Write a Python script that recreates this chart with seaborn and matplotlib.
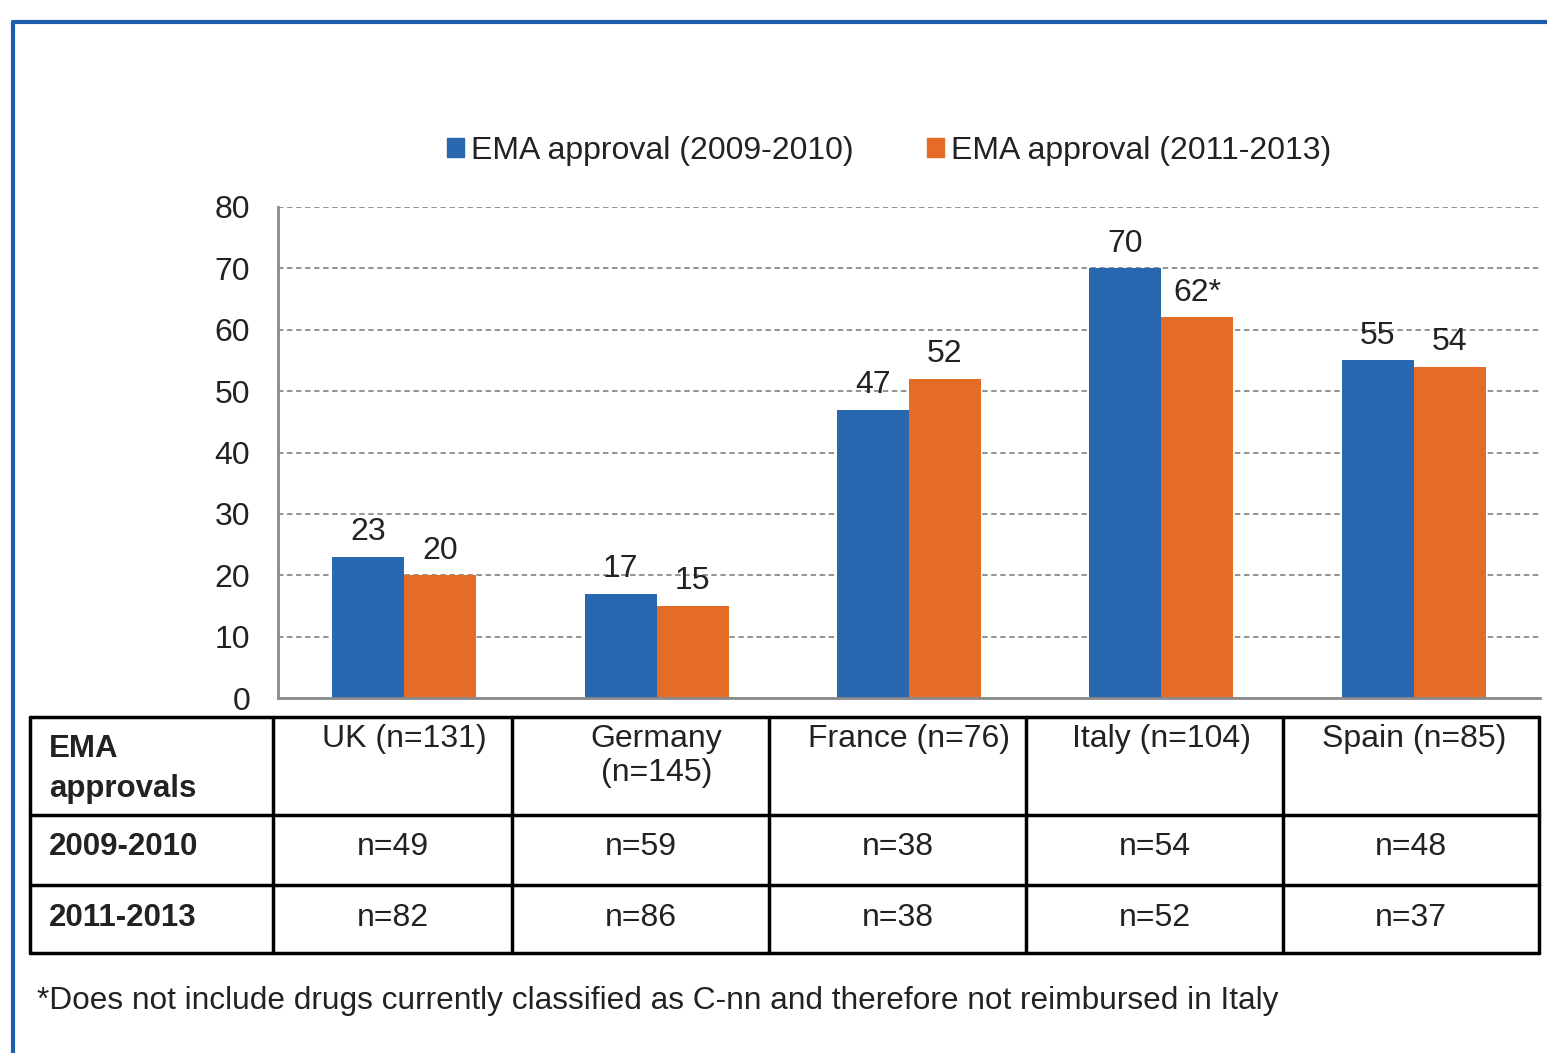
import matplotlib
matplotlib.use("Agg")
import matplotlib.pyplot as plt
import seaborn as sns
import pandas as pd
from matplotlib.lines import Line2D

# ---- data ----
countries = ["UK (n=131)", "Germany\n(n=145)", "France (n=76)", "Italy (n=104)", "Spain (n=85)"]
series_names = ["EMA approval (2009-2010)", "EMA approval (2011-2013)"]
vals_2009 = [23, 17, 47, 70, 55]
vals_2011 = [20, 15, 52, 62, 54]
labels_2011 = ["20", "15", "52", "62*", "54"]
n_2009 = ["n=49", "n=59", "n=38", "n=54", "n=48"]
n_2011 = ["n=82", "n=86", "n=38", "n=52", "n=37"]
row_labels = ["EMA\napprovals", "2009-2010", "2011-2013"]
yticks = [0, 10, 20, 30, 40, 50, 60, 70, 80]
footnote = "*Does not include drugs currently classified as C-nn and therefore not reimbursed in Italy"

BLUE = "#2968B0"
ORANGE = "#E56C27"
TXT = "#222222"
FS = 23

df = pd.DataFrame({
    "country": countries * 2,
    "series": [series_names[0]] * 5 + [series_names[1]] * 5,
    "value": vals_2009 + vals_2011,
})

sns.set_theme(style="white")
plt.rcParams["font.family"] = ["Liberation Sans", "DejaVu Sans"]

W, H = 1547, 1053
fig = plt.figure(figsize=(W / 100, H / 100), dpi=100)

def fx(x):
    return x / W

def fy(y):
    return 1 - y / H

ax = fig.add_axes([fx(278), fy(698), fx(1540) - fx(278), fy(207) - fy(698)])
sns.barplot(data=df, x="country", y="value", hue="series",
            palette=[BLUE, ORANGE], width=0.57, ax=ax, legend=False,
            saturation=1, edgecolor="none")
ax.set_xlim(-0.5, 4.5)
ax.set_ylim(0, 80)
ax.set_yticks(yticks)
ax.set_ylabel("")
ax.set_xlabel("")
ax.yaxis.grid(True, linestyle=(0, (3, 2)), color="#8a8a8a", linewidth=1.3)
ax.set_axisbelow(True)
for s in ["top", "right"]:
    ax.spines[s].set_visible(False)
for s in ["left", "bottom"]:
    ax.spines[s].set_color("#8a8a8a")
    ax.spines[s].set_linewidth(2)
ax.tick_params(axis="y", length=0, pad=20, labelsize=FS, labelcolor=TXT)
ax.tick_params(axis="x", length=0, pad=19, labelsize=FS, labelcolor=TXT)
for t in ax.get_xticklabels():
    t.set_va("top")
    t.set_linespacing(1.15)

containers = ax.containers
ax.bar_label(containers[0], labels=[str(v) for v in vals_2009], padding=7,
             fontsize=FS, color=TXT)
ax.bar_label(containers[1], labels=labels_2011, padding=7,
             fontsize=FS, color=TXT)

# legend
handles = [plt.Rectangle((0, 0), 1, 1, color=BLUE), plt.Rectangle((0, 0), 1, 1, color=ORANGE)]
fig.legend(handles, series_names, loc="center", bbox_to_anchor=(fx(889), fy(151)),
           ncol=2, frameon=False, fontsize=FS, handlelength=0.55, handleheight=0.55,
           handletextpad=0.2, columnspacing=2.3, labelcolor=TXT)

# table
col_x = [30, 273, 512, 769, 1026, 1283, 1539]
row_y = [717, 815, 885, 953]
for y in row_y:
    fig.add_artist(Line2D([fx(col_x[0]), fx(col_x[-1])], [fy(y), fy(y)], color="black", lw=2.5))
for x in col_x:
    fig.add_artist(Line2D([fx(x), fx(x)], [fy(row_y[0]), fy(row_y[-1])], color="black", lw=2.5))

fig.text(fx(49), fy(769), row_labels[0], fontsize=FS - 0.5, fontweight="bold", ha="left",
         va="center", color=TXT, linespacing=1.4)
fig.text(fx(49), fy(847), row_labels[1], fontsize=FS - 0.5, fontweight="bold", ha="left",
         va="center", color=TXT)
fig.text(fx(49), fy(918), row_labels[2], fontsize=FS - 0.5, fontweight="bold", ha="left",
         va="center", color=TXT)
for i in range(5):
    cx = (col_x[i + 1] + col_x[i + 2]) / 2
    fig.text(fx(cx), fy(847), n_2009[i], fontsize=FS, ha="center", va="center", color=TXT)
    fig.text(fx(cx), fy(918), n_2011[i], fontsize=FS, ha="center", va="center", color=TXT)

fig.text(fx(37), fy(1001), footnote, fontsize=22.8, ha="left", va="center", color=TXT)

# frame
fig.add_artist(Line2D([fx(13), 1.0], [fy(22), fy(22)], color="#1C5DAD", lw=3))
fig.add_artist(Line2D([fx(13), fx(13)], [fy(22), 0.0], color="#1C5DAD", lw=3))

fig.savefig("out.png", dpi=100)
